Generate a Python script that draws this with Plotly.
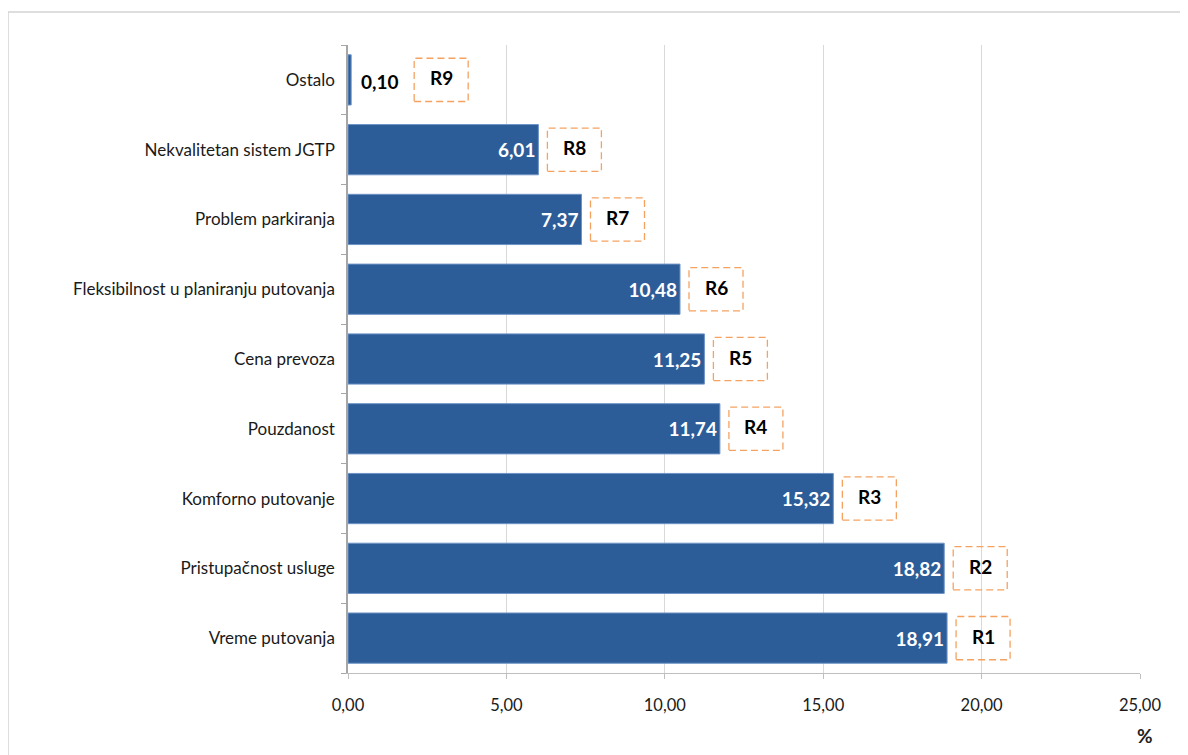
import plotly.graph_objects as go

categories = ["Vreme putovanja", "Pristupačnost usluge", "Komforno putovanje", "Pouzdanost",
              "Cena prevoza", "Fleksibilnost u planiranju putovanja", "Problem parkiranja",
              "Nekvalitetan sistem JGTP", "Ostalo"]
values = [18.91, 18.82, 15.32, 11.74, 11.25, 10.48, 7.37, 6.01, 0.10]
ranks = ["R1", "R2", "R3", "R4", "R5", "R6", "R7", "R8", "R9"]
x_ticks = [0, 5, 10, 15, 20, 25]
x_tick_labels = ["0,00", "5,00", "10,00", "15,00", "20,00", "25,00"]

W, H = 1188, 755
# page body has an 8px offset; margins compensate
ML, MR, MT, MB = 340, 56, 37, 90
PW, PH = W - ML - MR, H - MT - MB
FONT = "Lato"

def fmt(v):
    return f"{v:.2f}".replace(".", ",")

inside = [v > 2 for v in values]

fig = go.Figure()
fig.add_trace(go.Bar(
    y=categories, x=values, orientation="h",
    marker=dict(color="#2D5D98", line=dict(color="#6E93C6", width=1)),
    text=[fmt(v) if ins else "" for v, ins in zip(values, inside)],
    textposition="inside", insidetextanchor="end",
    textfont=dict(family=FONT, size=19, color="white", weight="bold"),
    hoverinfo="skip", cliponaxis=False,
))

shapes = []
annotations = []
for i, (v, r, ins) in enumerate(zip(values, ranks, inside)):
    off = 9 if ins else 63
    shapes.append(dict(type="rect", xref="x", yref="y", xsizemode="pixel", xanchor=v,
                       x0=off, x1=off + 54, y0=i - 0.31, y1=i + 0.31,
                       line=dict(color="#F5A260", width=1.3, dash="7px,4px"),
                       fillcolor="rgba(0,0,0,0)", layer="above"))
    annotations.append(dict(x=v, y=i, xref="x", yref="y", text=f"<b>{r}</b>", showarrow=False,
                            xanchor="center", xshift=off + 27, yshift=2,
                            font=dict(family=FONT, size=19, color="black")))
    if not ins:
        annotations.append(dict(x=v, y=i, xref="x", yref="y", text=f"<b>{fmt(v)}</b>",
                                showarrow=False, xanchor="left", xshift=8, yshift=-2,
                                font=dict(family=FONT, size=19, color="black")))

# "%" axis unit label
annotations.append(dict(x=1.0, y=0, xref="paper", yref="paper", text="<b>%</b>", showarrow=False,
                        xanchor="center", yanchor="middle", xshift=5, yshift=-62,
                        font=dict(family=FONT, size=19, color="#222")))

# outer chart border
shapes.append(dict(type="rect", xref="paper", yref="paper",
                   x0=(0 - ML) / PW, x1=(W + 5 - ML) / PW,
                   y0=(H - MB - (H + 5)) / PH, y1=(H - MB - 4) / PH,
                   line=dict(color="#D4D4D4", width=1.5), fillcolor="rgba(0,0,0,0)", layer="below"))

fig.update_layout(
    width=W, height=H,
    margin=dict(l=ML, r=MR, t=MT, b=MB),
    paper_bgcolor="white", plot_bgcolor="white",
    bargap=0.28, showlegend=False,
    shapes=shapes, annotations=annotations,
    font=dict(family=FONT, color="#1a1a1a"),
)
fig.update_xaxes(range=[0, 25], tickvals=x_ticks, ticktext=x_tick_labels,
                 showgrid=True, gridcolor="#D9D9D9", gridwidth=1,
                 showline=True, linecolor="#BFBFBF", linewidth=1,
                 ticks="outside", ticklen=5, tickcolor="#BFBFBF",
                 ticklabelstandoff=12, tickfont=dict(family=FONT, size=16.5, color="#1a1a1a"),
                 zeroline=False, fixedrange=True)
fig.update_yaxes(categoryorder="array", categoryarray=categories,
                 showline=True, linecolor="#A6A6A6", linewidth=1.5,
                 ticks="outside", ticklen=5, tickcolor="#A6A6A6", tickson="boundaries",
                 ticklabelstandoff=8, tickfont=dict(family=FONT, size=17, color="#1a1a1a"),
                 showgrid=False, fixedrange=True)

fig.write_html("out.html")
